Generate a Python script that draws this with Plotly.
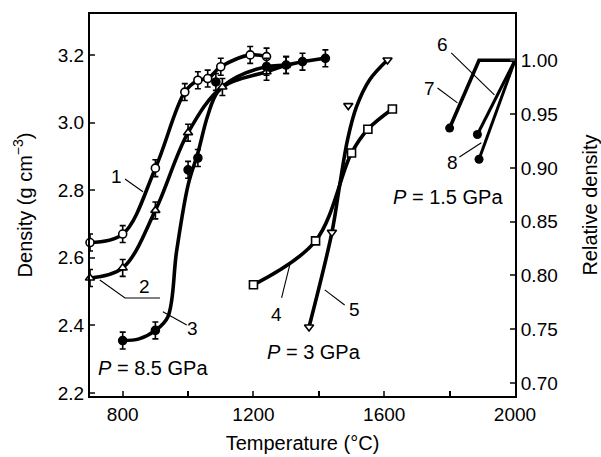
import plotly.graph_objects as go

# ---- data ----
# curve 1 : open circles, P = 8.5 GPa
t1 = [700, 800, 900, 990, 1030, 1060, 1100, 1190, 1240]
d1 = [2.645, 2.67, 2.865, 3.09, 3.125, 3.13, 3.165, 3.20, 3.195]
# curve 2 : open triangles, P = 8.5 GPa
t2 = [700, 800, 900, 1000, 1105, 1240, 1300]
d2 = [2.54, 2.57, 2.74, 2.97, 3.105, 3.15, 3.17]
# curve 3 : filled circles (measured points), P = 8.5 GPa
t3 = [800, 900, 1000, 1030, 1085, 1240, 1300, 1350, 1420]
d3 = [2.355, 2.385, 2.86, 2.895, 3.12, 3.165, 3.17, 3.18, 3.19]
# curve 3 : drawn line path
t3_line = [800, 850, 900, 938, 965, 1000, 1030, 1060, 1090, 1150, 1240, 1300, 1350, 1420]
d3_line = [2.355, 2.36, 2.385, 2.425, 2.62, 2.815, 2.91, 3.02, 3.09, 3.135, 3.165, 3.17, 3.18, 3.19]
err = 0.025
# curve 4 : open squares, P = 3 GPa
t4 = [1200, 1390, 1500, 1550, 1625]
d4 = [2.52, 2.65, 2.91, 2.98, 3.04]
# curve 5 : open down-triangles (points) and drawn line path, P = 3 GPa
t5 = [1370, 1440, 1490, 1610]
d5 = [2.395, 2.675, 3.05, 3.185]
t5_line = [1370, 1440, 1463, 1488, 1515, 1555, 1610]
d5_line = [2.395, 2.675, 2.81, 2.95, 3.046, 3.126, 3.185]
# curves 6-8 : relative density, P = 1.5 GPa
t6 = [1885, 2000]
r6 = [0.931, 1.00]
t7 = [1800, 1890, 2000]
r7 = [0.937, 1.00, 1.00]
t8 = [1890, 2000]
r8 = [0.908, 1.00]

x_ticks = [800, 1200, 1600, 2000]
y_ticks = [2.2, 2.4, 2.6, 2.8, 3.0, 3.2]
y2_ticks = [0.70, 0.75, 0.80, 0.85, 0.90, 0.95, 1.00]

FONT = "Liberation Sans, Arial, sans-serif"
FS = 19
TFS = 20
LW = 3.6

fig = go.Figure()

def add_line(x, y, yaxis="y", lw=LW):
    fig.add_trace(go.Scatter(
        x=x, y=y, yaxis=yaxis, mode="lines", cliponaxis=False,
        line=dict(color="black", width=lw, shape="spline", smoothing=1.0),
        showlegend=False, hoverinfo="skip"))

def add_points(x, y, symbol, fill, errors=True, msize=8):
    fig.add_trace(go.Scatter(
        x=x, y=y, mode="markers", cliponaxis=False,
        marker=dict(symbol=symbol, size=msize, color=fill,
                    line=dict(color="black", width=1.6)),
        error_y=dict(type="constant", value=err, thickness=1.6, width=3,
                     color="black", visible=errors),
        showlegend=False))

add_line(t1, d1)
add_line(t2, d2)
add_line(t3_line, d3_line)
add_line(t4, d4)
add_line(t5_line, d5_line)
add_points(t1, d1, "circle", "white")
add_points(t2, d2, "triangle-up", "white")
add_points(t3, d3, "circle", "black")
add_points(t4, d4, "square", "white", errors=False)
add_points(t5, d5, "triangle-down", "white", errors=False)

for tx, ry, lw in [(t6, r6, 3.0), (t7, r7, 3.6), (t8, r8, 3.0)]:
    fig.add_trace(go.Scatter(
        x=tx, y=ry, yaxis="y2", mode="lines", cliponaxis=False,
        line=dict(color="black", width=lw), showlegend=False))
    fig.add_trace(go.Scatter(
        x=[tx[0]], y=[ry[0]], yaxis="y2", mode="markers", cliponaxis=False,
        marker=dict(symbol="circle", size=9, color="black"), showlegend=False))

# curve labels with leader lines
labels = [
    ("1", 782, 2.839, [(807, 2.833), (862, 2.795)]),
    ("2", 868, 2.514, [(730, 2.534), (807, 2.481), (914, 2.481)]),
    ("3", 1015, 2.392, [(923, 2.44), (996, 2.401)]),
    ("4", 1271, 2.431, [(1286, 2.481), (1311, 2.579)]),
    ("5", 1509, 2.446, [(1418, 2.505), (1479, 2.46)]),
    ("6", 1778, 3.23, [(1805, 3.206), (1937, 3.082)]),
    ("7", 1738, 3.102, [(1763, 3.102), (1824, 3.058)]),
    ("8", 1808, 2.883, [(1830, 2.898), (1897, 2.94)]),
]
for txt, lx, ly, pts in labels:
    fig.add_annotation(x=lx, y=ly, text=txt, showarrow=False,
                       font=dict(family=FONT, size=FS, color="black"))
    fig.add_trace(go.Scatter(x=[p[0] for p in pts], y=[p[1] for p in pts],
                             mode="lines", line=dict(color="black", width=1.1),
                             showlegend=False, hoverinfo="skip"))

for txt, px, py in [("<i>P</i> = 8.5 GPa", 892, 2.274),
                    ("<i>P</i> = 3 GPa", 1384, 2.321),
                    ("<i>P</i> = 1.5 GPa", 1796, 2.78)]:
    fig.add_annotation(x=px, y=py, text=txt, showarrow=False,
                       font=dict(family=FONT, size=20, color="black"))

fig.update_layout(
    width=601, height=457,
    margin=dict(l=90, r=86, t=14, b=61, autoexpand=False),
    paper_bgcolor="white", plot_bgcolor="white",
    font=dict(family=FONT, size=FS, color="black"),
    xaxis=dict(range=[700, 2000], tickvals=x_ticks, automargin=False,
               ticktext=[str(v) for v in x_ticks],
               ticks="inside", ticklen=5, tickwidth=1.5, showgrid=False,
               minor=dict(tick0=800, dtick=200, ticks="inside", ticklen=5,
                          tickwidth=1.5, tickcolor="black", showgrid=False),
               zeroline=False, showline=True, linecolor="black", linewidth=2,
               mirror=True,
               title=dict(text="Temperature (°C)", standoff=12,
                          font=dict(family=FONT, size=TFS, color="black"))),
    yaxis=dict(range=[2.191, 3.321], tickvals=y_ticks, automargin=False,
               ticktext=[f"{v:.1f}" for v in y_ticks],
               ticks="inside", ticklen=5, tickwidth=1.5, showgrid=False,
               zeroline=False, showline=True, linecolor="black", linewidth=2,
               title=dict(text="Density (g cm<sup>−3</sup>)", standoff=20,
                          font=dict(family=FONT, size=TFS, color="black"))),
    yaxis2=dict(range=[0.688, 1.043], overlaying="y", side="right",
                automargin=False,
                tickvals=y2_ticks, ticktext=[f"{v:.2f}" for v in y2_ticks],
                ticks="inside", ticklen=5, tickwidth=1.5, showgrid=False,
                zeroline=False, showline=True, linecolor="black", linewidth=2,
                title=dict(text="Relative density", standoff=28,
                           font=dict(family=FONT, size=TFS, color="black"))),
)

fig.write_html("out.html")
